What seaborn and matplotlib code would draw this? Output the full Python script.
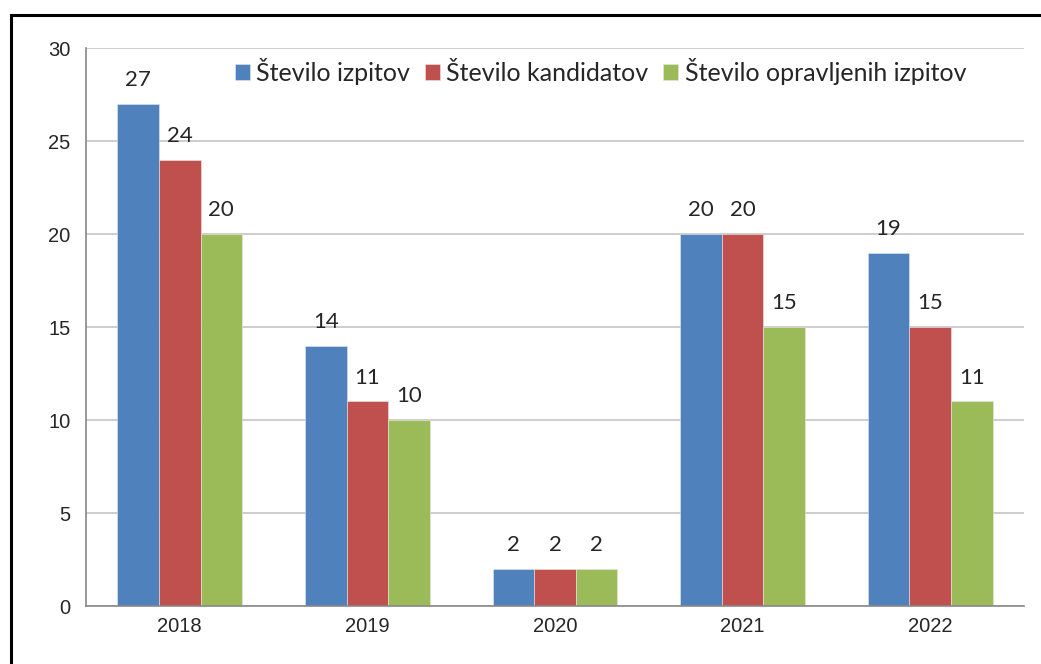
import pandas as pd
import seaborn as sns
import matplotlib.pyplot as plt
from matplotlib.patches import Rectangle

years = ["2018", "2019", "2020", "2021", "2022"]
izpiti = [27, 14, 2, 20, 19]
kandidati = [24, 11, 2, 20, 15]
opravljeni = [20, 10, 2, 15, 11]
series = ["Število izpitov", "Število kandidatov", "Število opravljenih izpitov"]
colors = ["#4F81BD", "#C0504D", "#9BBB59"]

df = pd.DataFrame({
    "leto": years * 3,
    "vrednost": izpiti + kandidati + opravljeni,
    "serija": [series[0]] * 5 + [series[1]] * 5 + [series[2]] * 5,
})

sns.set_style("white")
fig = plt.figure(figsize=(10.41, 6.64), dpi=100)
ax = fig.add_axes([0.0826, 0.0873, 0.901, 0.8404])

sns.barplot(data=df, x="leto", y="vrednost", hue="serija", palette=colors,
            width=0.665, gap=0, saturation=1, ax=ax, edgecolor="#E8E8E8", linewidth=0.4)

for cont in ax.containers:
    ax.bar_label(cont, padding=10, fontsize=16, family="Lato")

ax.set_ylim(0, 30)
ax.set_yticks(range(0, 31, 5))
ax.set_xlim(-0.5, 4.5)
ax.set_xlabel("")
ax.set_ylabel("")
ax.grid(axis="y", color="#C0C0C0", linewidth=1.1)
ax.set_axisbelow(True)
for s in ["top", "right"]:
    ax.spines[s].set_visible(False)
for s in ["left", "bottom"]:
    ax.spines[s].set_color("#888888")
    ax.spines[s].set_linewidth(1.2)

ax.tick_params(axis="y", length=5, color="#888888", width=1.2, labelsize=14.5, pad=6)
ax.tick_params(axis="x", length=0, labelsize=14.5, pad=8)
ax.set_xticks([i - 0.5 for i in range(6)], minor=True)
ax.tick_params(axis="x", which="minor", length=5, color="#888888", width=1.2, direction="out")
for lbl in ax.get_xticklabels() + ax.get_yticklabels():
    lbl.set_family("Liberation Sans")

ax.legend(loc="upper left", bbox_to_anchor=(0.148, 1.0), ncol=3, frameon=False,
          prop={"family": "Lato", "size": 18}, handlelength=0.6, handleheight=0.6,
          handletextpad=0.25, columnspacing=0.6, borderaxespad=0)

fig.patches.append(Rectangle((11 / 1041, -0.1), 1.2, (664 - 15) / 664 + 0.1,
                             transform=fig.transFigure, fill=False,
                             edgecolor="black", linewidth=2.2))

fig.savefig("out.png", dpi=100)
